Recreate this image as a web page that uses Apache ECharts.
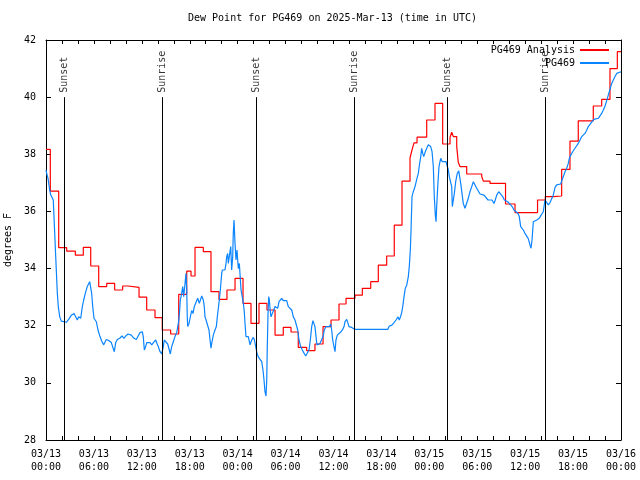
<!DOCTYPE html>
<html><head><meta charset="utf-8">
<script src="https://cdn.jsdelivr.net/npm/echarts/dist/echarts.min.js"></script>
<style>html,body{margin:0;padding:0;background:#fff}#c{width:640px;height:480px}</style>
</head><body><div id="c"></div>
<script>
// Hours since 2025-03-13 00:00 UTC
const xTickLabels = ['03/13\n00:00','03/13\n06:00','03/13\n12:00','03/13\n18:00','03/14\n00:00','03/14\n06:00','03/14\n12:00','03/14\n18:00','03/15\n00:00','03/15\n06:00','03/15\n12:00','03/15\n18:00','03/16\n00:00'];
const seriesNames = ['PG469 Analysis', 'PG469'];

// PG469 Analysis (step): value holds from each hour to the next entry
const redHours = [0, 0.54, 1.59, 2.59, 3.67, 4.67, 5.6, 6.6, 7.6, 8.6, 9.6, 10.27, 11.65, 12.61, 13.65, 14.56, 15.61, 16.62, 17.62, 18.16, 18.66, 19.7, 20.66, 21.66, 22.66, 23.67, 24.67, 25.67, 26.67, 27.67, 28.68, 29.71, 30.68, 31.59, 32.64, 33.68, 34.69, 35.69, 36.69, 37.57, 38.69, 39.61, 40.66, 41.61, 42.66, 43.61, 44.58, 45.58, 45.83, 46.08, 46.46, 47.67, 48.71, 49.67, 50.59, 50.8, 51.0, 51.43, 51.63, 51.84, 52.68, 54.56, 54.76, 55.6, 57.54, 58.73, 61.55, 62.52, 63.52, 64.57, 65.61, 66.65, 68.53, 69.58, 70.62, 71.54, 72];
const redValues = [38.17, 36.71, 34.73, 34.61, 34.47, 34.74, 34.09, 33.37, 33.48, 33.25, 33.39, 33.34, 33.0, 32.55, 32.28, 31.85, 31.71, 33.1, 33.91, 33.74, 34.74, 34.59, 33.19, 32.92, 33.25, 33.66, 32.78, 32.08, 32.78, 32.55, 31.67, 31.94, 31.78, 31.24, 31.13, 31.36, 31.97, 32.2, 32.76, 32.96, 33.07, 33.31, 33.54, 34.12, 34.44, 35.52, 37.06, 37.87, 38.15, 38.4, 38.6, 39.2, 39.78, 38.36, 38.59, 38.77, 38.62, 38.27, 37.71, 37.57, 37.31, 37.22, 37.06, 36.98, 36.26, 35.96, 36.4, 36.52, 36.54, 37.47, 38.46, 39.17, 39.69, 39.92, 41.0, 41.59, 41.59];

// PG469 observations
const blueHours = [
0, 0.13, 0.25, 0.38, 0.46, 0.59, 0.79, 0.91, 1.0, 1.16,
1.29, 1.42, 1.54, 1.72, 1.92, 2.13, 2.54, 2.84, 3.17, 3.51,
3.72, 3.92, 4.09, 4.35, 4.55, 4.72, 4.92, 5.17, 5.47, 5.6,
5.72, 5.85, 6.01, 6.3, 6.51, 6.76, 7.01, 7.23, 7.55, 7.85,
8.18, 8.39, 8.55, 8.73, 8.93, 9.23, 9.52, 9.77, 9.98, 10.27,
10.68, 11.02, 11.31, 11.48, 11.77, 12.06, 12.18, 12.31, 12.48, 12.61,
12.81, 13.02, 13.24, 13.44, 13.74, 13.9, 14.06, 14.28, 14.49, 14.69,
14.81, 15.03, 15.24, 15.44, 15.56, 15.74, 15.94, 16.15, 16.37, 16.57,
16.69, 16.82, 16.99, 17.12, 17.24, 17.41, 17.53, 17.62, 17.69, 17.74,
17.91, 18.07, 18.24, 18.41, 18.57, 18.78, 19.0, 19.2, 19.32, 19.5,
19.62, 19.7, 19.82, 19.91, 20.04, 20.25, 20.41, 20.54, 20.66, 20.75,
20.95, 21.16, 21.33, 21.45, 21.58, 21.7, 21.83, 22.0, 22.08, 22.25,
22.41, 22.54, 22.63, 22.75, 22.83, 22.95, 23.13, 23.25, 23.38, 23.45,
23.54, 23.67, 23.79, 23.92, 24.08, 24.21, 24.29, 24.42, 24.58, 24.71,
24.83, 24.92, 25.04, 25.17, 25.33, 25.55, 25.76, 25.96, 26.1, 26.26,
26.42, 26.58, 26.8, 27.01, 27.17, 27.3, 27.42, 27.55, 27.64, 27.71,
27.8, 27.89, 27.97, 28.05, 28.17, 28.34, 28.51, 28.68, 28.84, 29.01,
29.18, 29.34, 29.51, 29.71, 29.93, 30.14, 30.34, 30.55, 30.77, 30.97,
31.18, 31.39, 31.52, 31.68, 31.89, 32.09, 32.31, 32.52, 32.77, 32.93,
33.1, 33.27, 33.43, 33.56, 33.68, 33.81, 33.93, 34.1, 34.31, 34.52,
34.69, 34.85, 35.06, 35.27, 35.48, 35.65, 35.77, 35.9, 36.06, 36.19,
36.31, 36.48, 36.69, 36.94, 37.15, 37.32, 37.44, 37.65, 37.8, 37.94,
38.28, 38.48, 38.69, 42.79, 42.99, 43.3, 43.58, 43.83, 44.08, 44.24,
44.42, 44.54, 44.67, 44.83, 44.99, 45.17, 45.37, 45.49, 45.62, 45.71,
45.83, 45.99, 46.21, 46.42, 46.62, 46.74, 46.92, 47.04, 47.17, 47.3,
47.42, 47.58, 47.75, 47.87, 48.0, 48.17, 48.34, 48.5, 48.62, 48.75,
48.84, 48.92, 49.05, 49.21, 49.42, 49.62, 49.84, 50.09, 50.25, 50.38,
50.5, 50.68, 50.8, 50.88, 51.0, 51.13, 51.3, 51.5, 51.68, 51.8,
51.93, 52.09, 52.25, 52.47, 52.68, 52.88, 53.09, 53.31, 53.51, 53.72,
53.93, 54.13, 54.35, 54.56, 54.85, 55.1, 55.35, 55.6, 55.85, 56.1,
56.25, 56.44, 56.69, 56.94, 57.19, 57.39, 57.6, 57.81, 58.01, 58.19,
58.44, 58.6, 58.85, 59.1, 59.26, 59.44, 59.6, 59.77, 59.98, 60.19,
60.39, 60.61, 60.73, 60.86, 61.02, 61.2, 61.45, 61.77, 62.0, 62.27,
62.48, 62.7, 62.9, 63.11, 63.32, 63.52, 63.74, 63.95, 64.15, 64.45,
64.61, 64.78, 64.99, 65.2, 65.4, 65.53, 65.7, 65.95, 66.24, 66.45,
66.65, 66.87, 67.08, 67.28, 67.49, 67.71, 67.91, 68.12, 68.37, 68.62,
68.87, 69.16, 69.37, 69.58, 69.79, 70.0, 70.21, 70.41, 70.62, 70.84,
71.04, 71.25, 71.46, 71.66, 72.0];
const blueValues = [
37.45, 37.28, 37.16, 37.1, 36.75, 36.58, 36.54, 36.4, 35.82, 34.77,
33.95, 33.13, 32.67, 32.31, 32.16, 32.12, 32.12, 32.22, 32.37, 32.43,
32.37, 32.2, 32.31, 32.26, 32.67, 32.9, 33.13, 33.37, 33.54, 33.48,
33.13, 32.67, 32.26, 32.14, 31.85, 31.62, 31.44, 31.33, 31.52, 31.48,
31.41, 31.36, 31.09, 31.41, 31.52, 31.56, 31.64, 31.56, 31.64, 31.71,
31.67, 31.56, 31.52, 31.52, 31.76, 31.79, 31.62, 31.15, 31.27, 31.41,
31.36, 31.41, 31.33, 31.41, 31.5, 31.38, 31.27, 31.09, 31.01, 31.27,
31.5, 31.48, 31.36, 31.15, 31.01, 31.27, 31.44, 31.62, 31.76, 32.08,
32.37, 32.9, 33.13, 33.37, 33.02, 33.48, 33.83, 33.25, 32.31, 31.97,
32.08, 32.31, 32.53, 32.43, 32.67, 32.61, 32.96, 32.78, 32.84, 33.04,
33.07, 32.9, 32.67, 32.31, 32.2, 32.14, 31.85, 31.5, 31.21, 31.38,
31.67, 31.85, 31.97, 32.31, 32.61, 32.9, 33.25, 33.83, 33.95, 33.89,
33.95, 34.18, 34.42, 34.53, 34.18, 34.42, 34.77, 33.95, 34.42, 35.23,
35.7, 34.88, 34.3, 34.65, 34.0, 34.18, 33.83, 33.25, 33.0, 32.78,
32.49, 32.08, 31.62, 31.56, 31.62, 31.33, 31.5, 31.59, 31.5, 31.27,
31.04, 30.91, 30.86, 30.74, 30.45, 30.1, 29.69, 29.54, 30.1, 31.27,
32.43, 33.02, 32.9, 32.61, 32.31, 32.37, 32.55, 32.67, 32.69, 32.61,
32.84, 32.9, 32.96, 32.88, 32.9, 32.88, 32.67, 32.72, 32.55, 32.31,
32.2, 32.14, 31.85, 31.5, 31.27, 31.15, 31.04, 30.94, 30.97, 31.15,
31.5, 31.97, 32.18, 32.22, 31.97, 31.62, 31.33, 31.33, 31.38, 31.33,
31.62, 31.85, 31.97, 31.94, 31.97, 32.06, 31.85, 31.5, 31.27, 31.09,
31.5, 31.67, 31.73, 31.79, 31.87, 31.97, 32.14, 32.22, 32.1, 31.97,
31.94, 31.9, 31.87, 31.87, 31.99, 32.02, 32.11, 32.2, 32.31, 32.2,
32.34, 32.46, 32.67, 33.02, 33.31, 33.42, 33.72, 34.07, 34.65, 35.35,
36.52, 36.69, 36.87, 37.12, 37.33, 37.59, 37.92, 38.21, 38.03, 37.92,
38.03, 38.15, 38.21, 38.33, 38.38, 38.27, 38.09, 37.57, 36.52, 35.87,
35.64, 36.17, 36.87, 37.57, 37.86, 37.74, 37.8, 37.74, 37.8, 37.45,
37.22, 37.16, 36.87, 36.17, 36.14, 36.63, 37.04, 37.33, 37.42, 37.47,
36.98, 36.63, 36.28, 36.11, 36.17, 36.46, 36.69, 36.87, 37.04, 36.98,
36.81, 36.75, 36.61, 36.66, 36.57, 36.52, 36.4, 36.37, 36.4, 36.28,
36.4, 36.57, 36.69, 36.63, 36.52, 36.4, 36.41, 36.34, 36.31, 36.23,
36.14, 36.05, 35.99, 35.93, 35.82, 35.47, 35.41, 35.35, 35.23, 35.17,
35.05, 34.82, 34.71, 35.0, 35.64, 35.66, 35.7, 35.76, 35.87, 35.99,
36.4, 36.46, 36.23, 36.31, 36.34, 36.57, 36.84, 36.93, 36.96, 36.96,
37.1, 37.22, 37.39, 37.51, 37.68, 37.86, 37.97, 38.09, 38.21, 38.27,
38.38, 38.5, 38.62, 38.67, 38.73, 38.85, 38.97, 39.05, 39.14, 39.22,
39.29, 39.26, 39.32, 39.43, 39.55, 39.69, 39.88, 40.07, 40.27, 40.48,
40.6, 40.72, 40.83, 40.89, 40.89];

const sunsetHours = [2.25, 26.34, 50.3];
const sunriseHours = [14.57, 38.61, 62.52];
const markerTop = 40;      // vertical lines end at 40 F
const markerLabelAt = 40.15;

const FONT = 'DejaVu Sans Mono';

function vlines(hours) {
  return hours.map(h => [{coord: [h, 28]}, {coord: [h, markerTop]}]);
}
function markerSeries(hours, text) {
  return {
    type: 'scatter', data: hours.map(h => [h, markerLabelAt]), symbolSize: 0, silent: true, z: 5,
    label: {show: true, formatter: text, rotate: 90, position: 'inside', align: 'left', verticalAlign: 'middle',
            fontFamily: FONT, fontSize: 10, color: '#000'},
    markLine: {silent: true, symbol: ['none', 'none'], animation: false,
               lineStyle: {color: '#000', width: 1, type: 'solid'}, label: {show: false},
               emphasis: {disabled: true}, data: vlines(hours)}
  };
}

const axisLineStyle = {show: true, onZero: false, lineStyle: {color: '#000', width: 1}};
const xBase = {type: 'value', min: 0, max: 72, interval: 6, axisLine: axisLineStyle,
  axisTick: {show: true, inside: true, length: 4, lineStyle: {color: '#000'}},
  minorTick: {show: true, splitNumber: 3, length: 4, lineStyle: {color: '#000'}},
  splitLine: {show: false}, minorSplitLine: {show: false}};
const yBase = {type: 'value', min: 28, max: 42, interval: 2, axisLine: axisLineStyle,
  axisTick: {show: true, inside: true, length: 5, lineStyle: {color: '#000'}},
  splitLine: {show: false}};

const RED = '#ff0000', BLUE = '#0a84ff';
const chart = echarts.init(document.getElementById('c'));
chart.setOption({
  animation: false,
  backgroundColor: '#fff',
  title: {text: 'Dew Point for PG469 on 2025-Mar-13 (time in UTC)', left: 188, top: 13, padding: 0,
          textStyle: {fontFamily: FONT, fontSize: 10, fontWeight: 'normal', color: '#000'}},
  legend: {orient: 'vertical', right: 30, top: 45, align: 'right', itemWidth: 29, itemHeight: 10, itemGap: 3,
           padding: 0, selectedMode: false,
           itemStyle: {opacity: 0},
           data: seriesNames,
           textStyle: {fontFamily: FONT, fontSize: 10, color: '#000', lineHeight: 10}},
  grid: {left: 46, right: 19, top: 40, bottom: 40, containLabel: false, outerBoundsMode: 'none'},
  xAxis: [
    Object.assign({}, xBase, {position: 'bottom',
      axisLabel: {formatter: v => xTickLabels[Math.round(v / 6)], fontFamily: FONT, fontSize: 10, color: '#000',
                  lineHeight: 13, margin: 8, showMinLabel: true, showMaxLabel: true, hideOverlap: false}}),
    Object.assign({}, xBase, {position: 'top', axisLabel: {show: false}})
  ],
  yAxis: [
    Object.assign({}, yBase, {position: 'left', name: 'degrees F', nameLocation: 'middle', nameGap: 30, nameRotate: 90,
      nameTextStyle: {fontFamily: FONT, fontSize: 10, color: '#000'},
      axisLabel: {fontFamily: FONT, fontSize: 10, color: '#000', margin: 10}}),
    Object.assign({}, yBase, {position: 'right', axisLabel: {show: false}})
  ],
  series: [
    markerSeries(sunsetHours, 'Sunset'),
    markerSeries(sunriseHours, 'Sunrise'),
    {name: seriesNames[0], type: 'line', step: 'end', symbol: 'none', z: 3,
     data: redHours.map((h, i) => [h, redValues[i]]),
     lineStyle: {color: RED, width: 1.2}, itemStyle: {color: RED}},
    {name: seriesNames[1], type: 'line', symbol: 'none', z: 4,
     data: blueHours.map((h, i) => [h, blueValues[i]]),
     lineStyle: {color: BLUE, width: 1.2}, itemStyle: {color: BLUE}}
  ]
});
</script>
</body></html>
